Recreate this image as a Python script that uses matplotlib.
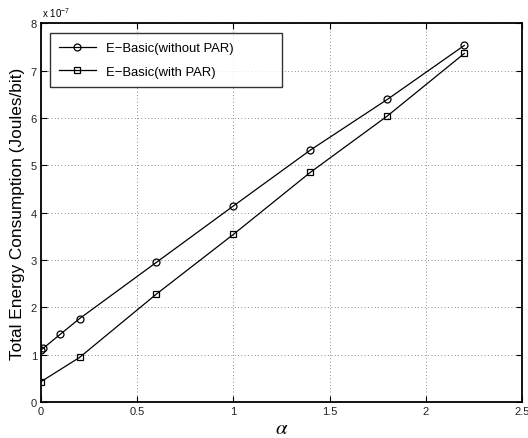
import matplotlib
matplotlib.use('Agg')
import matplotlib.pyplot as plt

plt.rcParams['font.family'] = ['Liberation Sans', 'DejaVu Sans']
plt.rcParams['mathtext.fontset'] = 'stix'

# alpha values and energy per bit (in units of 1e-7 J/bit)
alpha_nopar = [0, 0.01, 0.1, 0.2, 0.6, 1.0, 1.4, 1.8, 2.2]
energy_nopar = [1.10, 1.13, 1.43, 1.76, 2.95, 4.14, 5.32, 6.39, 7.53]
alpha_par = [0, 0.2, 0.6, 1.0, 1.4, 1.8, 2.2]
energy_par = [0.43, 0.94, 2.28, 3.54, 4.85, 6.04, 7.36]

xticks = [0, 0.5, 1, 1.5, 2, 2.5]
xticklabels = ['0', '0.5', '1', '1.5', '2', '2.5']
yticks = [0, 1, 2, 3, 4, 5, 6, 7, 8]

fig = plt.figure(figsize=(5.28, 4.39), dpi=100)
ax = fig.add_axes([0.0777, 0.082, 0.911, 0.863])

ax.plot(alpha_nopar, energy_nopar, '-o', color='k', lw=0.9, markersize=5,
        markerfacecolor='none', markeredgewidth=0.9, label='E\u2212Basic(without PAR)')
ax.plot(alpha_par, energy_par, '-s', color='k', lw=0.9, markersize=3.8,
        markerfacecolor='none', markeredgewidth=0.9, label='E\u2212Basic(with PAR)')

ax.set_xlim(0, 2.5)
ax.set_ylim(0, 8)
ax.set_xticks(xticks)
ax.set_xticklabels(xticklabels)
ax.set_yticks(yticks)
ax.tick_params(direction='in', top=True, right=True, labelsize=8, length=4,
               width=0.8, pad=3, colors='k', labelcolor='#222222')
for s in ax.spines.values():
    s.set_linewidth(1.3)

ax.grid(True, linestyle=(0, (1, 3)), color='#666666', linewidth=0.6)

ax.set_ylabel('Total Energy Consumption (Joules/bit)', fontsize=12.4, labelpad=4)
ax.set_xlabel(r'$\alpha$', fontsize=15, labelpad=1)
ax.text(0.002, 1.012, r'x 10$^{\mathregular{-7}}$', transform=ax.transAxes,
        fontsize=7, ha='left', va='bottom')

# box stretched to the width of the axes' left half
leg = ax.legend(loc='upper left', bbox_to_anchor=(0.0187, 0.0, 0.482, 0.974),
                mode='expand', borderaxespad=0.0, fontsize=9.4, frameon=True,
                fancybox=False, edgecolor='k', borderpad=0.7, handlelength=2.8,
                handletextpad=0.8, labelspacing=0.85)
leg.get_frame().set_linewidth(1.0)

fig.savefig('out.png', dpi=100)
